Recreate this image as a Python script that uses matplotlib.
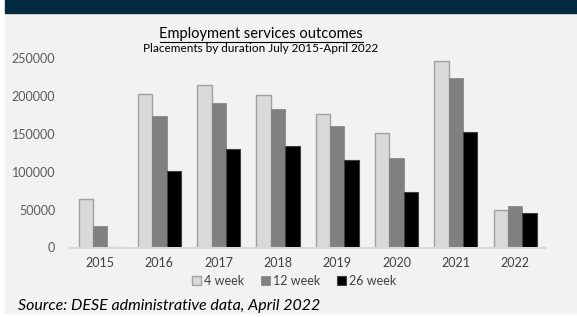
import matplotlib.pyplot as plt
import matplotlib.patches as mpatches
import numpy as np

# === Data
years = ['2015', '2016', '2017', '2018', '2019', '2020', '2021', '2022']
week4 = [64000, 203000, 215000, 201000, 176500, 151500, 246000, 49000]
week12 = [28000, 174000, 190000, 183000, 160000, 117500, 224000, 55000]
week26 = [500, 100500, 130500, 133500, 116000, 73000, 152000, 45500]
series_names = ['4 week', '12 week', '26 week']

plt.rcParams['font.family'] = ['Lato', 'DejaVu Sans']

W, H = 577, 317
fig = plt.figure(figsize=(W / 100, H / 100), dpi=100)
fig.patch.set_facecolor('white')

# background panel + dark header band
fig.patches.append(mpatches.Rectangle((5 / W, 1 - 313 / H), 1 - 5 / W, 300 / H,
                                      transform=fig.transFigure, color='#f2f2f2', zorder=-10))
fig.patches.append(mpatches.Rectangle((5 / W, 1 - 13 / H), 1 - 5 / W, 13 / H,
                                      transform=fig.transFigure, color='#022b3f', zorder=-10))

ax = fig.add_axes([70.4 / W, 1 - 247.5 / H, 474.5 / W, 189.5 / H])
ax.set_facecolor('none')

x = np.arange(len(years))
bw = 0.242
ax.bar(x - bw, week4, bw, color='#d9d9d9', edgecolor='#a0a0a0', linewidth=1.0, label=series_names[0])
ax.bar(x, week12, bw, color='#808080', edgecolor='#808080', linewidth=0.5, label=series_names[1])
ax.bar(x + bw, week26, bw, color='#000000', edgecolor='#404040', linewidth=0.8, label=series_names[2])

ax.set_ylim(0, 250000)
ax.set_xlim(-0.5, len(years) - 0.5)
ax.set_yticks([0, 50000, 100000, 150000, 200000, 250000])
ax.set_yticklabels(['0', '50000', '100000', '150000', '200000', '250000'])
ax.set_xticks(x)
ax.set_xticklabels(years)
ax.tick_params(axis='both', length=0, labelsize=9, colors='#404040')
ax.tick_params(axis='y', pad=11, colors='#595959')
ax.tick_params(axis='x', pad=7)
for s in ['top', 'right', 'left']:
    ax.spines[s].set_visible(False)
ax.spines['bottom'].set_color('#d9d9d9')
ax.spines['bottom'].set_linewidth(1.5)

# titles
cx = 261 / W
fig.text(cx, 1 - 34 / H, 'Employment services outcomes', ha='center', va='center',
         fontsize=10.5, color='#000000')
fig.add_artist(plt.Line2D([160 / W, 363 / W], [1 - 42 / H, 1 - 42 / H],
                          transform=fig.transFigure, color='black', linewidth=0.8))
fig.text(cx, 1 - 48 / H, 'Placements by duration July 2015-April 2022', ha='center', va='center',
         fontsize=8.5, color='#000000')

leg = fig.legend(loc='center', bbox_to_anchor=(294 / W, 1 - 281 / H), ncol=3, frameon=False,
                 fontsize=9, handlelength=0.75, handleheight=0.75, handletextpad=0.25,
                 columnspacing=1.3, borderpad=0)
for t in leg.get_texts():
    t.set_color('#404040')

fig.text(18 / W, 1 - 306 / H, 'Source: DESE administrative data, April 2022', ha='left', va='center',
         fontsize=11.5, style='italic', color='#000000')

fig.savefig('out.png', dpi=100, facecolor=fig.get_facecolor())
